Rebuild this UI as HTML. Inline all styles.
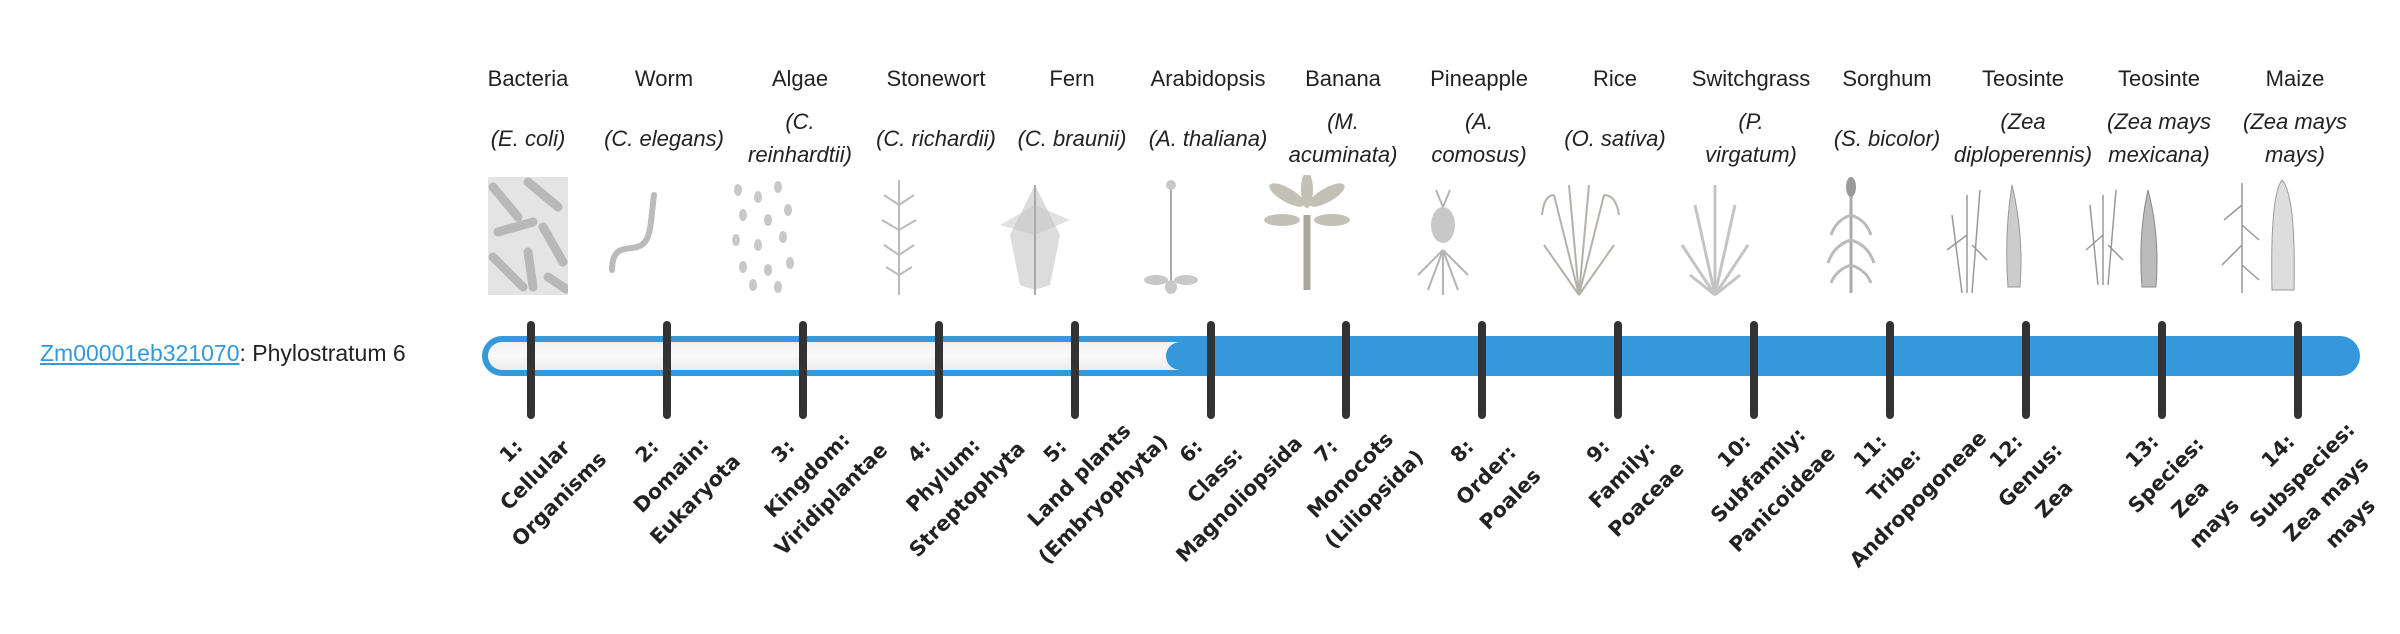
<!DOCTYPE html>
<html><head><meta charset="utf-8"><style>
body{margin:0;width:2400px;height:580px;background:#fff;position:relative;overflow:hidden;font-family:"Liberation Sans","DejaVu Sans",sans-serif;color:#222}
.c{position:absolute;width:150px;text-align:center;font-size:22px}
.n{top:66px}
.s{font-style:italic;line-height:33px}
.s1{top:122px}.s2{top:105px}
.t{position:absolute;top:321px;width:8px;height:98px;background:#333;border-radius:4px;margin-left:-4px}
.l{position:absolute;top:434px;width:280px;text-align:center;font-family:"DejaVu Sans",sans-serif;font-weight:bold;font-size:20.5px;line-height:34px;color:#222;transform-origin:50% 17px;transform:rotate(-45deg)}
.im{position:absolute;top:175px;width:90px;height:122px}
</style></head><body>
<div style="position:absolute;left:40px;top:340px;font-size:23px;white-space:nowrap"><span style="color:#3498db;text-decoration:underline">Zm00001eb321070</span>: Phylostratum 6</div>

<div style="position:absolute;left:482px;top:336px;width:1878px;height:40px;background:#3498db;border-radius:20px"></div>
<div style="position:absolute;left:488px;top:342px;width:700px;height:28px;background:linear-gradient(#f0f0f0,#fafafa 50%,#ececec);border-radius:14px 0 0 14px"></div>
<div style="position:absolute;left:1166px;top:342px;width:40px;height:28px;background:#3498db;border-radius:14px 0 0 14px"></div>

<div class="t" style="left:531px"></div><div class="t" style="left:667px"></div><div class="t" style="left:803px"></div><div class="t" style="left:939px"></div><div class="t" style="left:1075px"></div><div class="t" style="left:1211px"></div><div class="t" style="left:1346px"></div><div class="t" style="left:1482px"></div><div class="t" style="left:1618px"></div><div class="t" style="left:1754px"></div><div class="t" style="left:1890px"></div><div class="t" style="left:2026px"></div><div class="t" style="left:2162px"></div><div class="t" style="left:2298px"></div>

<div class="c n" style="left:453px">Bacteria</div><div class="c s s1" style="left:453px">(E. coli)</div>
<div class="c n" style="left:589px">Worm</div><div class="c s s1" style="left:589px">(C. elegans)</div>
<div class="c n" style="left:725px">Algae</div><div class="c s s2" style="left:725px">(C.<br>reinhardtii)</div>
<div class="c n" style="left:861px">Stonewort</div><div class="c s s1" style="left:861px">(C. richardii)</div>
<div class="c n" style="left:997px">Fern</div><div class="c s s1" style="left:997px">(C. braunii)</div>
<div class="c n" style="left:1133px">Arabidopsis</div><div class="c s s1" style="left:1133px">(A. thaliana)</div>
<div class="c n" style="left:1268px">Banana</div><div class="c s s2" style="left:1268px">(M.<br>acuminata)</div>
<div class="c n" style="left:1404px">Pineapple</div><div class="c s s2" style="left:1404px">(A.<br>comosus)</div>
<div class="c n" style="left:1540px">Rice</div><div class="c s s1" style="left:1540px">(O. sativa)</div>
<div class="c n" style="left:1676px">Switchgrass</div><div class="c s s2" style="left:1676px">(P.<br>virgatum)</div>
<div class="c n" style="left:1812px">Sorghum</div><div class="c s s1" style="left:1812px">(S. bicolor)</div>
<div class="c n" style="left:1948px">Teosinte</div><div class="c s s2" style="left:1948px">(Zea<br>diploperennis)</div>
<div class="c n" style="left:2084px">Teosinte</div><div class="c s s2" style="left:2084px">(Zea mays<br>mexicana)</div>
<div class="c n" style="left:2220px">Maize</div><div class="c s s2" style="left:2220px">(Zea mays<br>mays)</div>

<svg class="im" style="left:488px;width:80px;top:177px;height:118px" viewBox="0 0 80 118"><rect width="80" height="118" fill="#e4e4e4"/><g stroke="#b8b8b8" stroke-width="9" stroke-linecap="round"><line x1="5" y1="10" x2="30" y2="40"/><line x1="40" y1="5" x2="70" y2="30"/><line x1="10" y1="55" x2="45" y2="45"/><line x1="55" y1="50" x2="75" y2="85"/><line x1="5" y1="80" x2="35" y2="110"/><line x1="40" y1="75" x2="45" y2="110"/><line x1="60" y1="100" x2="78" y2="112"/></g></svg>
<svg class="im" style="left:582px" viewBox="0 0 90 122"><path d="M30 95 C30 70 45 75 55 72 C70 68 68 50 72 20" stroke="#bbb" stroke-width="6" fill="none" stroke-linecap="round"/></svg>
<svg class="im" style="left:718px" viewBox="0 0 90 122"><g fill="#c8c8c8"><ellipse cx="20" cy="15" rx="4" ry="6"/><ellipse cx="40" cy="22" rx="4" ry="6"/><ellipse cx="60" cy="12" rx="4" ry="6"/><ellipse cx="25" cy="40" rx="4" ry="6"/><ellipse cx="50" cy="45" rx="4" ry="6"/><ellipse cx="70" cy="35" rx="4" ry="6"/><ellipse cx="18" cy="65" rx="4" ry="6"/><ellipse cx="40" cy="70" rx="4" ry="6"/><ellipse cx="65" cy="62" rx="4" ry="6"/><ellipse cx="25" cy="92" rx="4" ry="6"/><ellipse cx="50" cy="95" rx="4" ry="6"/><ellipse cx="72" cy="88" rx="4" ry="6"/><ellipse cx="35" cy="110" rx="4" ry="6"/><ellipse cx="60" cy="112" rx="4" ry="6"/></g></svg>
<svg class="im" style="left:854px" viewBox="0 0 90 122"><g stroke="#bbb" stroke-width="2" fill="none"><line x1="45" y1="5" x2="45" y2="120"/><path d="M45 30 L30 20 M45 30 L60 20 M45 55 L28 45 M45 55 L62 45 M45 80 L30 70 M45 80 L60 70 M45 100 L32 92 M45 100 L58 92"/></g></svg>
<svg class="im" style="left:990px" viewBox="0 0 90 122"><g fill="#c4c4c4"><path d="M45 10 L20 60 L30 110 L45 115 L60 110 L70 60 Z" opacity=".6"/><path d="M45 30 L10 50 L45 60 L80 45 Z" opacity=".5"/></g><line x1="45" y1="10" x2="45" y2="120" stroke="#aaa" stroke-width="2"/></svg>
<svg class="im" style="left:1126px" viewBox="0 0 90 122"><line x1="45" y1="8" x2="45" y2="110" stroke="#aaa" stroke-width="2"/><g fill="#c8c8c8"><ellipse cx="30" cy="105" rx="12" ry="5"/><ellipse cx="60" cy="105" rx="12" ry="5"/><ellipse cx="45" cy="112" rx="6" ry="7"/><circle cx="45" cy="10" r="5"/></g></svg>
<svg class="im" style="left:1262px" viewBox="0 0 90 122"><line x1="45" y1="40" x2="45" y2="115" stroke="#a9a69c" stroke-width="7"/><g fill="#c3c0b6"><ellipse cx="25" cy="20" rx="20" ry="7" transform="rotate(30 25 20)"/><ellipse cx="65" cy="20" rx="20" ry="7" transform="rotate(-30 65 20)"/><ellipse cx="45" cy="15" rx="6" ry="18"/><ellipse cx="20" cy="45" rx="18" ry="6"/><ellipse cx="70" cy="45" rx="18" ry="6"/></g></svg>
<svg class="im" style="left:1398px" viewBox="0 0 90 122"><ellipse cx="45" cy="50" rx="12" ry="18" fill="#c8c8c8"/><g stroke="#b4b4b4" stroke-width="2"><path d="M45 75 L20 100 M45 75 L70 100 M45 75 L30 115 M45 75 L60 115 M45 75 L45 120 M45 32 L38 15 M45 32 L52 15"/></g></svg>
<svg class="im" style="left:1534px" viewBox="0 0 90 122"><g stroke="#b3b1a8" stroke-width="2" fill="none"><path d="M45 120 L20 20 M45 120 L35 10 M45 120 L55 10 M45 120 L70 20 M45 120 L10 70 M45 120 L80 70 M20 20 Q10 20 8 40 M70 20 Q82 20 85 40"/></g></svg>
<svg class="im" style="left:1670px" viewBox="0 0 90 122"><g stroke="#c4c4c4" stroke-width="3" fill="none"><path d="M45 120 L45 10 M45 120 L25 30 M45 120 L65 30 M45 120 L12 70 M45 120 L78 70 M45 120 L20 100 M45 120 L70 100"/></g></svg>
<svg class="im" style="left:1806px" viewBox="0 0 90 122"><line x1="45" y1="15" x2="45" y2="118" stroke="#aaa" stroke-width="3"/><ellipse cx="45" cy="12" rx="5" ry="10" fill="#999"/><g stroke="#bbb" stroke-width="3" fill="none"><path d="M45 40 Q30 45 25 60 M45 40 Q60 45 65 60 M45 65 Q28 70 22 88 M45 65 Q62 70 68 88 M45 90 Q30 95 25 108 M45 90 Q60 95 65 108"/></g></svg>
<svg class="im" style="left:1942px" viewBox="0 0 90 122"><g stroke="#999" stroke-width="1.5" fill="none"><path d="M25 118 L25 20 M30 118 L38 15 M20 118 L10 40 M25 60 L5 75 M30 70 L45 85"/></g><path d="M70 10 Q62 60 66 112 L78 112 Q82 60 70 10Z" fill="#ccc" stroke="#999"/></svg>
<svg class="im" style="left:2078px" viewBox="0 0 90 122"><g stroke="#999" stroke-width="1.5" fill="none"><path d="M25 110 L25 20 M30 110 L38 15 M20 110 L12 30 M25 60 L8 75 M30 70 L45 85"/></g><path d="M70 15 Q60 60 64 112 L78 112 Q82 60 70 15Z" fill="#bbb" stroke="#888"/></svg>
<svg class="im" style="left:2214px" viewBox="0 0 90 122"><g stroke="#999" stroke-width="1.5" fill="none"><path d="M28 118 L28 8 M28 30 L10 45 M28 50 L45 65 M28 70 L8 90 M28 90 L45 105"/></g><path d="M68 5 Q56 20 58 115 L80 115 Q82 20 68 5Z" fill="#ddd" stroke="#999"/></svg>

<div class="l" style="left:371px">1:<br>Cellular<br>Organisms</div>
<div class="l" style="left:507px">2:<br>Domain:<br>Eukaryota</div>
<div class="l" style="left:643px">3:<br>Kingdom:<br>Viridiplantae</div>
<div class="l" style="left:779px">4:<br>Phylum:<br>Streptophyta</div>
<div class="l" style="left:915px">5:<br>Land plants<br>(Embryophyta)</div>
<div class="l" style="left:1051px">6:<br>Class:<br>Magnoliopsida</div>
<div class="l" style="left:1186px">7:<br>Monocots<br>(Liliopsida)</div>
<div class="l" style="left:1322px">8:<br>Order:<br>Poales</div>
<div class="l" style="left:1458px">9:<br>Family:<br>Poaceae</div>
<div class="l" style="left:1594px">10:<br>Subfamily:<br>Panicoideae</div>
<div class="l" style="left:1730px">11:<br>Tribe:<br>Andropogoneae</div>
<div class="l" style="left:1866px">12:<br>Genus:<br>Zea</div>
<div class="l" style="left:2002px">13:<br>Species:<br>Zea<br>mays</div>
<div class="l" style="left:2138px">14:<br>Subspecies:<br>Zea mays<br>mays</div>
</body></html>
